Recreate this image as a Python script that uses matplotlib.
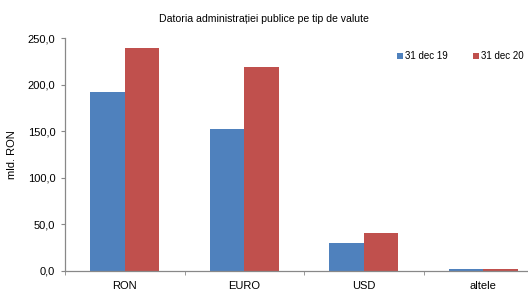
import numpy as np
import matplotlib
matplotlib.use('Agg')
import matplotlib.pyplot as plt

# date
categorii = ['RON', 'EURO', 'USD', 'altele']
serii = ['31 dec 19', '31 dec 20']
val_2019 = [192.0, 152.0, 30.0, 2.0]
val_2020 = [239.0, 219.0, 41.0, 2.0]

culori = ['#4F81BD', '#C0504D']

plt.rcParams['font.family'] = ['Liberation Sans', 'DejaVu Sans']

fig = plt.figure(figsize=(5.28, 2.93), dpi=100)
# axa se intinde putin dincolo de marginea din dreapta
ax = fig.add_axes([65 / 528, 22 / 293, 478 / 528, 233 / 293])

x = np.arange(len(categorii))
w = 0.29
ax.bar(x - w / 2, val_2019, w, color=culori[0], label=serii[0])
ax.bar(x + w / 2, val_2020, w, color=culori[1], label=serii[1])

ax.set_xlim(-0.5, len(categorii) - 0.5)
ax.set_ylim(0, 250)
ax.set_yticks(np.arange(0, 251, 50))
ax.set_yticklabels([f'{v:.1f}'.replace('.', ',') for v in np.arange(0, 251, 50)])
ax.set_xticks(x)
ax.set_xticklabels(categorii)
ax.set_xticks(np.arange(-0.5, len(categorii), 1), minor=True)
ax.tick_params(axis='x', which='major', length=0, labelsize=8, pad=7)
ax.tick_params(axis='x', which='minor', length=3, color='#888888')
ax.tick_params(axis='y', length=3, color='#888888', labelsize=8, pad=4)

for s in ['top', 'right']:
    ax.spines[s].set_visible(False)
for s in ['left', 'bottom']:
    ax.spines[s].set_color('#888888')
    ax.spines[s].set_linewidth(0.9)

ax.set_ylabel('mld. RON', fontsize=8, labelpad=8)
fig.text(0.5, 0.935, 'Datoria administrației publice pe tip de valute',
         ha='center', va='center', fontsize=7.6)

ax.legend(loc='upper left', bbox_to_anchor=(0.677, 0.98), ncol=2,
          frameon=False, fontsize=7, handlelength=0.6, handleheight=0.6,
          handletextpad=0.2, columnspacing=2.6)

plt.savefig('out.png', dpi=100)
